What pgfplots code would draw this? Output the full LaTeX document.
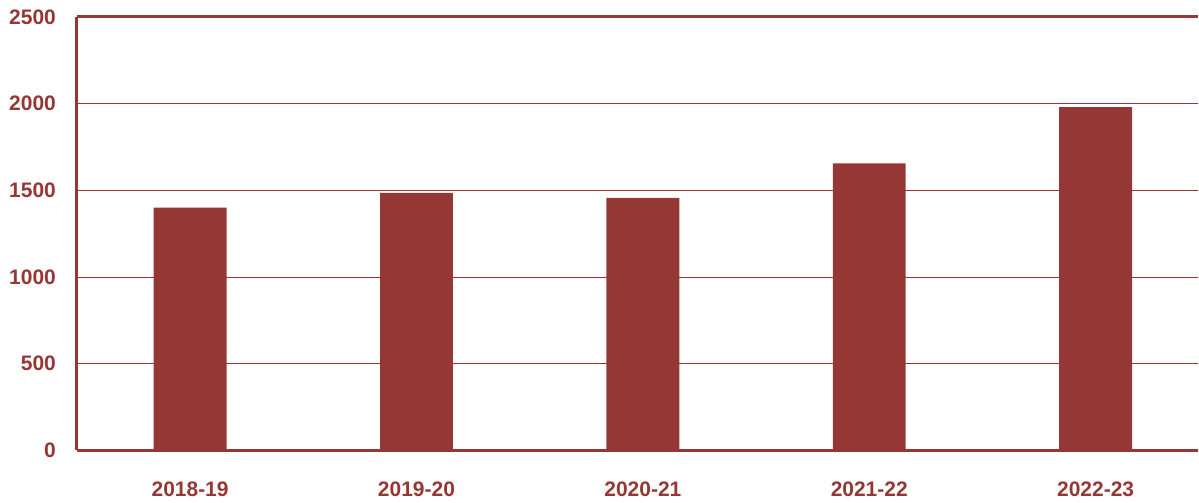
\documentclass[border=0pt]{standalone}
\usepackage{pgfplots}
\pgfplotsset{compat=1.18}
\usepackage{fontspec}
\setmainfont{Liberation Sans}
\definecolor{barred}{HTML}{953735}
\begin{document}
\begin{tikzpicture}
\begin{axis}[
  at={(0,0)}, anchor=south west,
  scale only axis,
  width=561pt, height=217pt,
  xmin=-0.5, xmax=4.45,
  ymin=0, ymax=2500,
  ytick={0,500,1000,1500,2000,2500},
  xtick={0,1,2,3,4},
  xticklabels={2018-19,2019-20,2020-21,2021-22,2022-23},
  axis x line*=box, axis y line*=left,
  axis line style={barred, line width=1.5pt, -},
  every outer x axis line/.append style={barred, line width=1.5pt},
  every outer y axis line/.append style={barred, line width=1.5pt},
  major tick length=0pt,
  ymajorgrids, grid style={barred, line width=0.5pt},
  tick label style={font=\bfseries\fontsize{10.5}{12}\selectfont, text=barred},
  xticklabel style={yshift=-12pt},
  yticklabel style={xshift=-7pt},
  /pgf/number format/assume math mode=true,
  yticklabel={\pgfmathprintnumber[assume math mode=true,1000 sep={}]{\tick}},
  ybar, bar width=36.5pt,
  clip=false,
]
\addplot[fill=barred, draw=none] coordinates {(0,1400) (1,1485) (2,1457) (3,1655) (4,1980)};
\end{axis}
\path (-38.5pt,-25pt) rectangle (561pt,225.5pt);
\end{tikzpicture}
\end{document}
